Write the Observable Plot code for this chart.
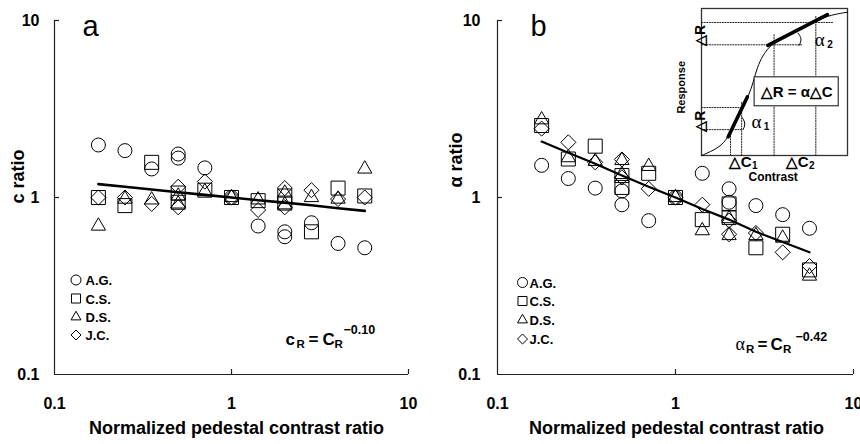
<!DOCTYPE html>
<html><head><meta charset="utf-8">
<script src="https://cdn.jsdelivr.net/npm/d3@7"></script>
<script src="https://cdn.jsdelivr.net/npm/@observablehq/plot@0.6"></script>
<style>
body{margin:0;background:#fff;}
#wrap{position:relative;width:860px;height:444px;overflow:hidden;background:#fff;}
#wrap svg{position:absolute;top:0;overflow:visible;}
</style></head><body><div id="wrap"></div>
<script>
// ---------- data ----------
const subjects = ["A.G.", "C.S.", "D.S.", "J.C."];
const xTickValues = [0.1, 1, 10];
const yTickValues = [0.1, 1, 10];
const pedestalX = [0.177, 0.25, 0.354, 0.5, 0.5, 0.707, 1, 1.414, 2, 2, 2.83, 4, 5.66];
// panel a: c ratio
const cRatioAG = [1.98, 1.84, 1.45, 1.76, 1.67, 1.47, 1, 0.69, 0.64, 0.60, 0.72, 0.55, 0.52];
const cRatioCS = [1.00, 0.90, 1.58, 1.06, 0.94, 1.10, 1, 0.96, 1.02, 0.93, 0.64, 1.13, 1.02];
const cRatioDS = [0.69, 0.98, 0.97, 1.02, 0.92, 1.08, 1, 0.97, 1.06, 0.91, 1.00, 0.98, 1.45];
const cRatioJC = [1.00, 1.00, 0.92, 1.15, 0.88, 1.23, 1, 0.85, 1.13, 0.88, 1.10, 0.98, 1.00];
// panel b: alpha ratio
const alphaRatioAG = [1.52, 1.28, 1.13, 1.09, 0.91, 0.74, 1, 1.37, 1.12, 0.94, 0.90, 0.80, 0.67];
const alphaRatioCS = [2.55, 1.65, 1.95, 1.33, 1.14, 1.37, 1, 0.75, 0.92, 0.77, 0.52, 0.62, 0.39];
const alphaRatioDS = [2.75, 1.68, 1.60, 1.62, 1.35, 1.50, 1, 0.65, 0.76, 0.61, 0.61, 0.59, 0.36];
const alphaRatioJC = [2.45, 2.05, 1.58, 1.64, 1.30, 1.12, 1, 0.91, 0.74, 0.62, 0.63, 0.49, 0.41];
// fitted lines
const fitX = [0.177, 0.25, 0.354, 0.5, 0.707, 1, 1.414, 2, 2.83, 4, 5.66];
const fitC = [1.19, 1.15, 1.11, 1.07, 1.035, 1, 0.965, 0.935, 0.905, 0.87, 0.84];
const fitAlpha = [2.07, 1.79, 1.55, 1.33, 1.15, 1, 0.86, 0.75, 0.64, 0.56, 0.49];
// inset schematic (response vs contrast), unit square 0..100
const curveU = [0, 8.5, 14.2, 18.3, 23.3, 28, 32.5, 35.5, 38.2, 42, 46, 50, 58.8, 72.5, 85, 100];
const curveV = [0, 3.6, 7.5, 12.7, 22.9, 33, 41, 50, 60.2, 68, 73.5, 76.5, 81.3, 88.3, 95.0, 97.5];
const tangentU = [[18.3, 31.4], [45.5, 86.3]];
const tangentV = [[12.7, 39.8], [74.9, 95.9]];
const dottedU = [[0, 27.5], [0, 27.5], [19.9, 19.9], [27.5, 27.5], [0, 89.7], [0, 69.1], [49.7, 49.7], [78.3, 78.3]];
const dottedV = [[32.6, 32.6], [17.6, 17.6], [0, 17.6], [0, 37], [90.5, 90.5], [75.3, 75.3], [0, 82.8], [0, 95.2]];
const arcU = [[27.9, 29.7, 29.7, 28.4], [66.1, 68.4, 68.0, 66.8]];
const arcV = [[25.8, 22.9, 19.9, 17.6], [83.3, 80.1, 77.1, 74.9]];

// ---------- styling ----------
const FONT = '"Liberation Sans", Arial, Helvetica, sans-serif';
const SERIF = '"Liberation Serif", "Times New Roman", serif';
const symbols = ["circle", "square", "triangle", "diamond2"];
const dotR = [7, 7.9, 5.3, 6.8];
const legendR = [5, 5.1, 3.7, 4.5];

function rows(xs, ys) { return xs.map((x, i) => ({x, y: ys[i]})); }

function makePanel(cfg) {
  const width = 430, height = 444, mt = 20, mb = 70;
  const frameW = width - cfg.ml - cfg.mr, frameH = height - mt - mb;
  const axisColor = "#222";
  const t = (str, dx, dy, o = {}) => Plot.text([str], Object.assign({
    frameAnchor: "bottom-left", dx, dy, textAnchor: "start", lineAnchor: "bottom",
    fill: "#000", fontWeight: "bold", fontFamily: FONT
  }, o));
  const marks = [
    Plot.ruleX([0.1], {stroke: axisColor, strokeWidth: 1.2}),
    Plot.ruleY([0.1], {stroke: axisColor, strokeWidth: 1.2}),
    Plot.tickY(yTickValues.filter(v => v > 0.1), {y: d => d, insetRight: frameW - 5, stroke: axisColor, strokeWidth: 1.2}),
    Plot.tickX(xTickValues.filter(v => v > 0.1), {x: d => d, insetTop: frameH - 5, stroke: axisColor, strokeWidth: 1.2}),
    Plot.axisX(xTickValues, {tickSize: 0, tickPadding: 23, tickFormat: d => String(d), fontSize: 16, fontWeight: "bold", label: null, fill: "#000"}),
    Plot.axisY(yTickValues, {tickSize: 0, tickPadding: cfg.yPad, tickFormat: d => String(d), fontSize: 16, fontWeight: "bold", label: null, fill: "#000"}),
    Plot.text([cfg.yTitle], {frameAnchor: "left", dx: cfg.yTitleDx, dy: cfg.yTitleDy, rotate: -90, fontSize: 18, fontWeight: "bold", fill: "#000"}),
    Plot.text(["Normalized pedestal contrast ratio"], {frameAnchor: "bottom", dx: cfg.titleDx, dy: 59, fontSize: 18, fontWeight: "bold", fill: "#000"}),
    Plot.text([cfg.letter], {frameAnchor: "top-left", dx: cfg.letterDx, dy: 15, textAnchor: "start", lineAnchor: "bottom", fontSize: 29, fontWeight: "normal", fill: "#000"}),
    Plot.line(rows(fitX, cfg.fit), {x: "x", y: "y", stroke: "#000", strokeWidth: cfg.fitW})
  ];
  cfg.series.forEach((ys, i) => {
    marks.push(Plot.dot(rows(pedestalX, ys), {x: "x", y: "y", symbol: symbols[i], r: dotR[i], stroke: "#000", fill: "none", strokeWidth: 1}));
  });
  subjects.forEach((s, i) => {
    marks.push(Plot.dot([s], {frameAnchor: "bottom-left", dx: cfg.legDx, dy: cfg.legDy[i], symbol: symbols[i], r: legendR[i], stroke: "#000", fill: "none", strokeWidth: 1}));
    marks.push(Plot.text([s], {frameAnchor: "bottom-left", dx: cfg.legTx, dy: cfg.legDy[i] + 1, textAnchor: "start", lineAnchor: "middle", fontSize: 13, fontWeight: "bold", fill: "#000"}));
  });
  cfg.eq.forEach(p => marks.push(t(p[0], p[1], p[2], p[3])));
  return Plot.plot({
    width, height, marginLeft: cfg.ml, marginRight: cfg.mr, marginTop: mt, marginBottom: mb,
    x: {type: "log", domain: [0.1, 10], axis: null},
    y: {type: "log", domain: [0.1, 10], axis: null},
    style: {fontFamily: FONT, fontSize: "16px", color: "#000", background: "none", overflow: "visible"},
    marks
  });
}

const big = {fontSize: 17}, sub = {fontSize: 11.5}, sup = {fontSize: 12.5};
const panelA = makePanel({
  ml: 54, mr: 22, yPad: 15, yTitle: "c ratio", yTitleDx: -36, yTitleDy: 6, titleDx: 5,
  letter: "a", letterDx: 28, fit: fitC, fitW: 2.6,
  series: [cRatioAG, cRatioCS, cRatioDS, cRatioJC],
  legDx: 21.5, legTx: 31, legDy: [-94.5, -76, -57.5, -39.5],
  eq: [["c", 231, -30, big], ["R", 242, -26.5, sub], ["=", 254, -30, big], ["C", 268, -30, big], ["R", 280, -26.5, sub], ["\u22120.10", 289, -41, sup]]
});
const panelB = makePanel({
  ml: 67, mr: 7, yPad: 17, yTitle: "\u03b1 ratio", yTitleDx: -41, yTitleDy: -10, titleDx: 1,
  letter: "b", letterDx: 33, fit: fitAlpha, fitW: 2.2,
  series: [alphaRatioAG, alphaRatioCS, alphaRatioDS, alphaRatioJC],
  legDx: 25, legTx: 32, legDy: [-92, -73.5, -54.5, -35.5],
  eq: [["\u03b1", 238, -25, {fontSize: 18, fontWeight: "normal", fontFamily: SERIF}], ["R", 248.5, -22, sub], ["=", 260, -25, big], ["C", 273, -25, big], ["R", 285.5, -22, sub], ["\u22120.42", 298, -34, sup]]
});
panelA.style.left = "0px";
panelB.style.left = "430px";

// ---------- inset ----------
const lbl = (str, x, y, o = {}) => Plot.text([str], Object.assign({x: () => x, y: () => y, fill: "#000", fontWeight: "bold", fontFamily: FONT}, o));
const insetMarks = [
  Plot.frame({stroke: "#333", strokeWidth: 1.3}),
  Plot.line(rows(curveU, curveV), {x: "x", y: "y", stroke: "#000", strokeWidth: 1, curve: "basis"})
];
dottedU.forEach((u, i) => insetMarks.push(Plot.line(rows(u, dottedV[i]), {x: "x", y: "y", stroke: "#222", strokeWidth: 1, strokeDasharray: "1.2,1.4"})));
tangentU.forEach((u, i) => insetMarks.push(Plot.line(rows(u, tangentV[i]), {x: "x", y: "y", stroke: "#000", strokeWidth: 3.6})));
arcU.forEach((u, i) => insetMarks.push(Plot.line(rows(u, arcV[i]), {x: "x", y: "y", stroke: "#000", strokeWidth: 1, curve: "basis"})));
insetMarks.push(
  Plot.rect([0], {x1: () => 36.4, x2: () => 94, y1: () => 33.5, y2: () => 53.2, fill: "#fff", stroke: "#333", strokeWidth: 1.2}),
  lbl("\u25b3R = \u03b1\u25b3C", 65.2, 43.3, {fontSize: 15}),
  lbl("\u25b3R", -0.7, 81.7, {fontSize: 14, rotate: -90}),
  lbl("\u25b3R", -0.7, 23.3, {fontSize: 14, rotate: -90}),
  lbl("Response", -13.7, 46.4, {fontSize: 11, rotate: -90}),
  lbl("Contrast", 49.1, -14.7, {fontSize: 12}),
  lbl("\u25b3C", 34.3, -4.5, {fontSize: 15, textAnchor: "end"}),
  lbl("1", 34.6, -6.8, {fontSize: 10, textAnchor: "start"}),
  lbl("\u25b3C", 73.4, -4.5, {fontSize: 15, textAnchor: "end"}),
  lbl("2", 73.7, -6.8, {fontSize: 10, textAnchor: "start"}),
  lbl("\u03b1", 37.7, 22.9, {fontSize: 19, fontWeight: "normal", fontFamily: SERIF}),
  lbl("1", 42.6, 19.5, {fontSize: 10, textAnchor: "start"}),
  lbl("\u03b1", 81, 78.3, {fontSize: 19, fontWeight: "normal", fontFamily: SERIF}),
  lbl("2", 86.2, 75, {fontSize: 10, textAnchor: "start"})
);
const inset = Plot.plot({
  width: 200, height: 190, marginLeft: 41, marginRight: 13, marginTop: 8, marginBottom: 35,
  x: {domain: [0, 100], axis: null}, y: {domain: [0, 100], axis: null},
  style: {fontFamily: FONT, background: "none", overflow: "visible"},
  marks: insetMarks
});
inset.style.left = "660px";

const wrap = document.getElementById("wrap");
wrap.appendChild(panelA);
wrap.appendChild(panelB);
wrap.appendChild(inset);
</script></body></html>
